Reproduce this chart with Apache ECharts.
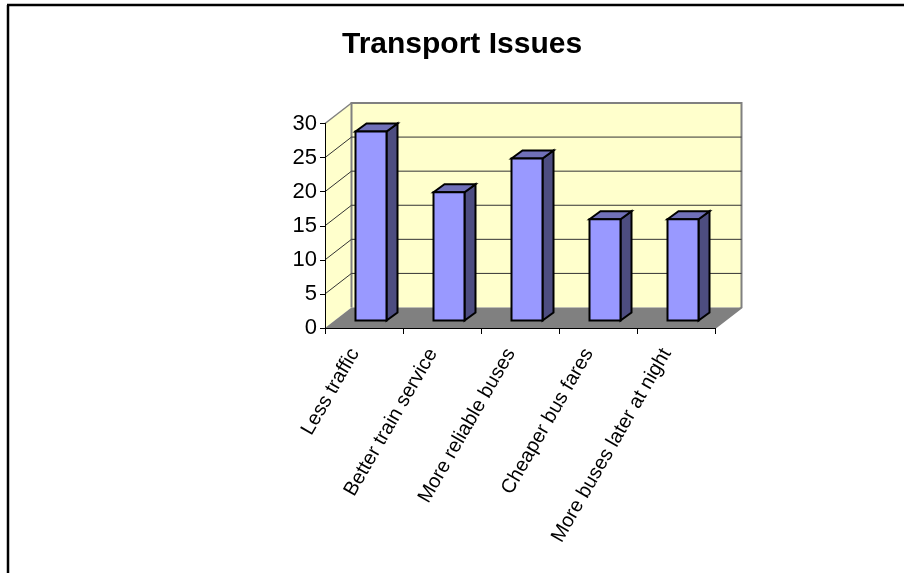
<!DOCTYPE html>
<html><head><meta charset="utf-8">
<style>html,body{margin:0;padding:0;background:#fff}#c{width:904px;height:573px}</style>
<script src="https://cdn.jsdelivr.net/npm/echarts@6/dist/echarts.min.js"></script>
</head><body><div id="c"></div>
<script>
const categories = ['Less traffic','Better train service','More reliable buses','Cheaper bus fares','More buses later at night'];
const values = [28,19,24,15,15];
const yTicks = [0,5,10,15,20,25,30];
const titleText = 'Transport Issues';

const DEPTH = [26.5,-20.5];      // front plane to back wall
const BAR_SHIFT = [7,-7.5];      // front plane to bar front faces
const BAR_DEPTH = [11,-8];       // bar front to bar back
const BAR_W = 31;
const BAR_SCALE = 0.99;          // slight foreshortening of bars

const chart = echarts.init(document.getElementById('c'),null,{renderer:'canvas'});

function wallsItem(params, api){
  const p = params.dataIndex;
  const v = api.value(1);
  const band = api.size([1,0])[0];
  const L = api.coord([0,0])[0]-band/2, R = api.coord([4,0])[0]+band/2;
  const y0 = api.coord([0,0])[1], yT = api.coord([0,30])[1];
  const dx=DEPTH[0], dy=DEPTH[1];
  const children=[];
  if(p===0){
    children.push({type:'polygon',shape:{points:[[L+dx,yT+dy],[R+dx,yT+dy],[R+dx,y0+dy],[L+dx,y0+dy]]},style:{fill:'#FFFFCC',stroke:null}});
    children.push({type:'polygon',shape:{points:[[L,yT],[L+dx,yT+dy],[L+dx,y0+dy],[L,y0]]},style:{fill:'#FFFFCC',stroke:null}});
    children.push({type:'polygon',shape:{points:[[L,y0],[L+dx,y0+dy],[R+dx,y0+dy],[R,y0]]},style:{fill:'#808080',stroke:null}});
  }
  const y=api.coord([0,v])[1];
  if(v>0&&v<30){
    children.push({type:'polyline',shape:{points:[[L,y],[L+dx,y+dy],[R+dx,y+dy]]},style:{fill:null,stroke:'#333333',lineWidth:1}});
  }
  if(p===0){
    children.push({type:'polyline',shape:{points:[[L+dx,y0+dy],[L+dx,yT+dy],[R+dx,yT+dy],[R+dx,y0+dy],[R,y0]]},style:{fill:null,stroke:'#808080',lineWidth:2}});
    children.push({type:'line',shape:{x1:L,y1:yT,x2:L+dx,y2:yT+dy},style:{stroke:'#808080',lineWidth:1.5}});
  }
  return {type:'group',children};
}

function barItem(params, api){
  const i=api.value(0), v=api.value(1);
  const c=api.coord([i,v]), b=api.coord([i,0]);
  const x0=c[0]+BAR_SHIFT[0]-BAR_W/2, x1=x0+BAR_W;
  const yb=b[1]+BAR_SHIFT[1];
  const yt=yb-(b[1]-c[1])*BAR_SCALE;
  const ddx=BAR_DEPTH[0], ddy=BAR_DEPTH[1];
  const st={stroke:'#000',lineWidth:2,lineJoin:'miter'};
  return {type:'group',children:[
    {type:'polygon',shape:{points:[[x1,yt],[x1+ddx,yt+ddy],[x1+ddx,yb+ddy],[x1,yb]]},style:Object.assign({fill:'#4D4D80'},st)},
    {type:'polygon',shape:{points:[[x0,yt],[x0+ddx,yt+ddy],[x1+ddx,yt+ddy],[x1,yt]]},style:Object.assign({fill:'#7070B8'},st)},
    {type:'rect',shape:{x:x0,y:yt,width:BAR_W,height:yb-yt},style:Object.assign({fill:'#9999FF'},st)}
  ]};
}

chart.setOption({
  animation:false,
  backgroundColor:'#fff',
  title:{text:titleText,left:337,top:25,textStyle:{fontFamily:'Liberation Sans',fontSize:30,fontWeight:'bold',color:'#000'}},
  grid:{left:325,top:123.5,width:390,height:204.5,containLabel:false},
  xAxis:{type:'category',data:categories,boundaryGap:true,
    axisLine:{show:true,lineStyle:{color:'#000',width:1}},
    axisTick:{show:true,alignWithLabel:false,length:6,lineStyle:{color:'#000',width:1}},
    axisLabel:{interval:0,rotate:60,margin:16,padding:[0,10,0,0],verticalAlign:'bottom',lineHeight:10,fontFamily:'Liberation Sans',fontSize:20,color:'#000'},
    splitLine:{show:false}},
  yAxis:{type:'value',min:0,max:30,interval:5,
    axisLine:{show:true,lineStyle:{color:'#000',width:1}},
    axisTick:{show:true,length:5,lineStyle:{color:'#000',width:1}},
    axisLabel:{margin:8,fontFamily:'Liberation Sans',fontSize:22,color:'#000',formatter:v=>yTicks.includes(v)?String(v):''},
    splitLine:{show:false}},
  series:[
    {type:'custom',name:'walls',renderItem:wallsItem,data:yTicks.map(v=>[0,v]),silent:true,z:-1,clip:false,encode:{x:0,y:1}},
    {type:'custom',name:'Transport Issues',renderItem:barItem,data:values.map((v,i)=>[i,v]),z:3,clip:false,encode:{x:0,y:1}}
  ],
  graphic:[
    {type:'line',shape:{x1:7,y1:5,x2:904,y2:5},style:{stroke:'#000',lineWidth:2.5},silent:true},
    {type:'line',shape:{x1:8,y1:5,x2:8,y2:573},style:{stroke:'#000',lineWidth:2.5},silent:true}
  ]
});
</script></body></html>
